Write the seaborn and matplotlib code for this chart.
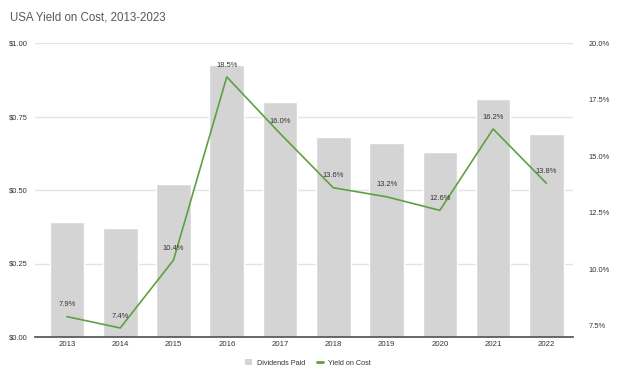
import matplotlib
matplotlib.use("Agg")
import matplotlib.pyplot as plt
import seaborn as sns
import numpy as np
from matplotlib.patches import Patch
from matplotlib.lines import Line2D
from matplotlib.ticker import FuncFormatter

# data
years = ["2013", "2014", "2015", "2016", "2017", "2018", "2019", "2020", "2021", "2022"]
dividends = [0.39, 0.37, 0.52, 0.925, 0.80, 0.68, 0.66, 0.63, 0.81, 0.69]
yield_on_cost = [7.9, 7.4, 10.4, 18.5, 16.0, 13.6, 13.2, 12.6, 16.2, 13.8]

bar_color = "#d4d4d4"
line_color = "#5fa040"
text_color = "#333333"

sns.set_theme(style="white")
plt.rcParams["font.family"] = ["Liberation Sans", "DejaVu Sans"]

fig = plt.figure(figsize=(6.24, 3.80), dpi=100)
ax = fig.add_axes([35 / 624, 1 - 337 / 380, 538 / 624, 294 / 380])

# bars: dividends paid
sns.barplot(x=years, y=dividends, color=bar_color, width=0.65, saturation=1, ax=ax)
ax.set_ylim(0, 1.0)
ax.set_yticks([0, 0.25, 0.5, 0.75, 1.0])
ax.yaxis.set_major_formatter(FuncFormatter(lambda v, p: f"${v:.2f}"))
ax.grid(axis="y", color="#e3e3e3", linewidth=1)
ax.set_axisbelow(True)
ax.set_xlim(-0.6, 9.5)
for s in ["top", "right", "left"]:
    ax.spines[s].set_visible(False)
ax.spines["bottom"].set_color("#555555")
ax.tick_params(axis="y", length=0, labelsize=5.4, colors=text_color, pad=5)
ax.tick_params(axis="x", length=0, labelsize=5.6, colors=text_color, pad=3)
ax.set_xlabel("")
ax.set_ylabel("")

# line: yield on cost, right axis
ax2 = ax.twinx()
xpos = np.arange(len(years))
sns.lineplot(x=xpos, y=yield_on_cost, color=line_color, linewidth=1.2, ax=ax2)
ax2.set_ylim(7.0, 20.0)
ax2.set_yticks([7.5, 10, 12.5, 15, 17.5, 20])
ax2.yaxis.set_major_formatter(FuncFormatter(lambda v, p: f"{v:.1f}%"))
ax2.tick_params(axis="y", length=0, labelsize=5.4, colors=text_color, pad=11)
for s in ["top", "right", "left", "bottom"]:
    ax2.spines[s].set_visible(False)
ax2.set_ylabel("")
for x, v in zip(xpos, yield_on_cost):
    ax2.annotate(f"{v:.1f}%", (x, v), xytext=(0, 6), textcoords="offset points",
                 ha="center", va="bottom", fontsize=5.4, color=text_color)

fig.text(10 / 624, 1 - 17 / 380, "USA Yield on Cost, 2013-2023", fontsize=8.3,
         color="#595959", va="center", ha="left")

handles = [Patch(facecolor=bar_color, edgecolor="none"),
           Line2D([0], [0], color=line_color, linewidth=2)]
fig.legend(handles, ["Dividends Paid", "Yield on Cost"], loc="center",
           bbox_to_anchor=(308 / 624, 1 - 363 / 380), ncol=2, frameon=False,
           fontsize=5.2, handlelength=0.9, handleheight=0.9, columnspacing=1.6,
           handletextpad=0.7, labelcolor=text_color)

fig.savefig("out.png", dpi=100)
